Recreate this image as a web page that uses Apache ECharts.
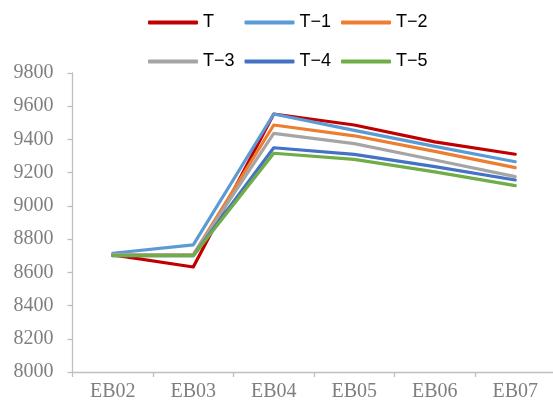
<!DOCTYPE html>
<html>
<head>
<meta charset="utf-8">
<script src="https://cdn.jsdelivr.net/npm/echarts@6/dist/echarts.min.js"></script>
<style>html,body{margin:0;padding:0;background:#fff}#c{width:553px;height:408px}</style>
</head>
<body>
<div id="c"></div>
<script>
var categories = ['EB02', 'EB03', 'EB04', 'EB05', 'EB06', 'EB07'];
var seriesNames = ['T', 'T\u22121', 'T\u22122', 'T\u22123', 'T\u22124', 'T\u22125'];
var sT  = [8705, 8632, 9553, 9487, 9385, 9311];
var sT1 = [8715, 8765, 9553, 9455, 9358, 9266];
var sT2 = [8705, 8705, 9487, 9422, 9328, 9230];
var sT3 = [8705, 8705, 9437, 9375, 9276, 9176];
var sT4 = [8700, 8700, 9350, 9310, 9236, 9156];
var sT5 = [8700, 8700, 9317, 9280, 9205, 9122];
var yTicks = [8000, 8200, 8400, 8600, 8800, 9000, 9200, 9400, 9600, 9800];
var colors = ['#C00000', '#5B9BD5', '#ED7D31', '#A5A5A5', '#4472C4', '#70AD47'];
var allData = [sT, sT1, sT2, sT3, sT4, sT5];

var chart = echarts.init(document.getElementById('c'));
var legendCommon = {
  left: 143,
  itemWidth: 50,
  itemHeight: 4,
  itemGap: 4.5,
  icon: 'roundRect',
  orient: 'horizontal',
  textStyle: { fontFamily: 'Liberation Sans, Arial, sans-serif', fontSize: 18, color: '#000', width: 37, lineHeight: 18 }
};
chart.setOption({
  animation: false,
  color: colors,
  legend: [
    Object.assign({}, legendCommon, { top: 8.5, data: seriesNames.slice(0, 3) }),
    Object.assign({}, legendCommon, { top: 47.5, data: seriesNames.slice(3) })
  ],
  grid: { left: 72.5, right: -2.5, top: 73, bottom: 36, containLabel: false, outerBoundsMode: 'none' },
  xAxis: {
    type: 'category',
    data: categories,
    boundaryGap: true,
    axisLine: { lineStyle: { color: '#BFBFBF', width: 1.3 } },
    axisTick: { show: true, length: 5, lineStyle: { color: '#BFBFBF', width: 1.3 } },
    axisLabel: { fontFamily: 'Liberation Serif, Times New Roman, serif', fontSize: 20, color: '#7F7F7F', margin: 10 },
    splitLine: { show: false }
  },
  yAxis: {
    type: 'value',
    min: yTicks[0],
    max: yTicks[yTicks.length - 1],
    interval: 200,
    axisLine: { show: true, lineStyle: { color: '#BFBFBF', width: 1.3 } },
    axisTick: { show: true, length: 5, lineStyle: { color: '#BFBFBF', width: 1.3 } },
    axisLabel: { fontFamily: 'Liberation Serif, Times New Roman, serif', fontSize: 20, color: '#7F7F7F', margin: 19,
      formatter: function (v) { return String(v); } },
    splitLine: { show: false }
  },
  series: seriesNames.map(function (n, i) {
    return {
      name: n,
      type: 'line',
      data: allData[i],
      symbol: 'none',
      lineStyle: { width: 3.2, color: colors[i], cap: 'round', join: 'round' },
      itemStyle: { color: colors[i] }
    };
  })
});
</script>
</body>
</html>
